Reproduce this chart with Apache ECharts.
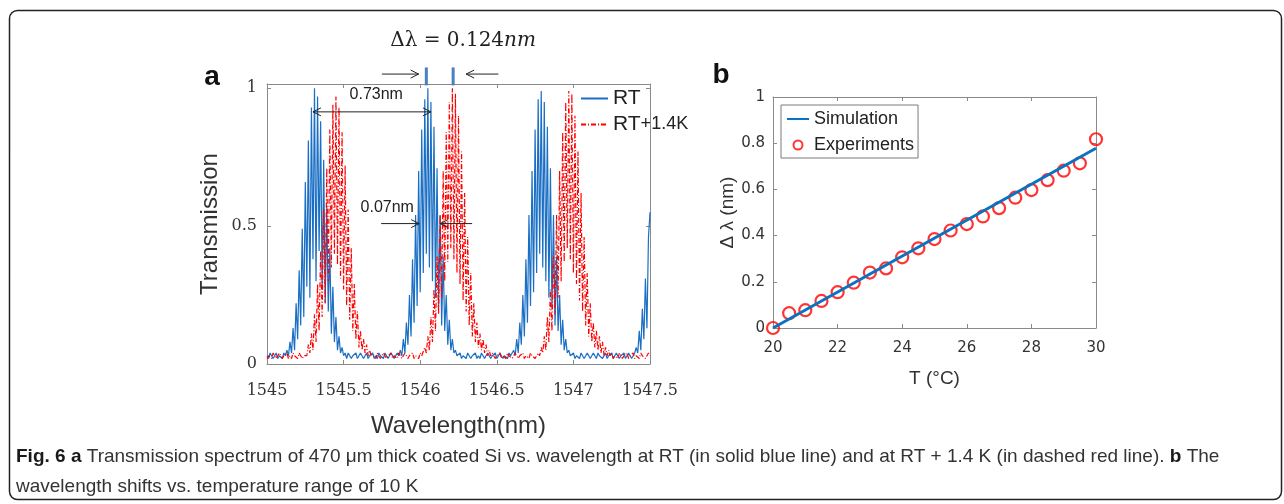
<!DOCTYPE html>
<html lang="en">
<head>
<meta charset="UTF-8">
<script src="https://cdn.jsdelivr.net/npm/echarts/dist/echarts.min.js"></script>
<title>Fig. 6</title>
<style>html,body{margin:0;padding:0;background:#fff}</style>
</head>
<body>
<div id="main" style="width:1284px;height:504px;"></div>
<script>
// panel a: transmission, one sample every 0.01 nm starting at 1545.00 nm
var wlStart = 1545.0;
var wlStep = 0.01;
var transRT = [
  0.03,0.02,0.04,0.03,0.02,0.03,0.04,0.02,0.03,0.03,
  0.02,0.04,0.03,0.05,0.03,0.08,0.04,0.13,0.05,0.22,
  0.09,0.34,0.14,0.49,0.17,0.66,0.28,0.81,0.24,0.93,
  0.38,1.00,0.30,0.97,0.41,0.88,0.27,0.74,0.22,0.57,
  0.19,0.42,0.11,0.28,0.08,0.17,0.05,0.10,0.04,0.06,
  0.03,0.04,0.02,0.04,0.03,0.02,0.03,0.03,0.04,0.02,
  0.03,0.04,0.03,0.02,0.03,0.04,0.02,0.03,0.03,0.04,
  0.02,0.03,0.02,0.04,0.03,0.03,0.02,0.04,0.03,0.02,
  0.03,0.04,0.03,0.02,0.03,0.04,0.03,0.05,0.03,0.09,
  0.04,0.15,0.07,0.25,0.10,0.38,0.15,0.54,0.21,0.70,
  0.26,0.85,0.33,0.96,0.40,1.00,0.35,0.95,0.30,0.86,
  0.24,0.71,0.20,0.54,0.14,0.39,0.12,0.25,0.07,0.16,
  0.05,0.09,0.04,0.05,0.03,0.03,0.04,0.02,0.03,0.03,
  0.02,0.04,0.03,0.02,0.03,0.03,0.04,0.02,0.03,0.02,
  0.04,0.03,0.02,0.03,0.04,0.03,0.02,0.03,0.03,0.04,
  0.02,0.03,0.04,0.03,0.02,0.03,0.03,0.02,0.04,0.03,
  0.03,0.05,0.03,0.09,0.04,0.15,0.07,0.25,0.10,0.38,
  0.15,0.54,0.21,0.70,0.26,0.85,0.33,0.96,0.40,0.99,
  0.35,0.95,0.30,0.86,0.24,0.71,0.20,0.54,0.14,0.39,
  0.12,0.25,0.07,0.16,0.05,0.09,0.04,0.05,0.03,0.03,
  0.04,0.02,0.03,0.03,0.02,0.04,0.03,0.02,0.03,0.04,
  0.03,0.02,0.03,0.04,0.03,0.02,0.04,0.03,0.03,0.02,
  0.03,0.04,0.02,0.03,0.03,0.04,0.02,0.03,0.04,0.03,
  0.02,0.03,0.03,0.04,0.02,0.03,0.04,0.03,0.02,0.03,
  0.04,0.06,0.04,0.12,0.05,0.20,0.09,0.31,0.13,0.46,0.55
];
var transRT14 = [
  0.02,0.03,0.03,0.02,0.04,0.03,0.02,0.03,0.04,0.03,
  0.02,0.03,0.03,0.04,0.02,0.03,0.02,0.04,0.03,0.03,
  0.02,0.04,0.03,0.02,0.03,0.03,0.03,0.07,0.04,0.11,
  0.05,0.18,0.08,0.29,0.12,0.41,0.17,0.56,0.22,0.71,
  0.30,0.85,0.35,0.94,0.40,0.97,0.36,0.93,0.31,0.84,
  0.27,0.72,0.21,0.56,0.16,0.42,0.12,0.29,0.09,0.19,
  0.06,0.12,0.05,0.09,0.04,0.07,0.03,0.05,0.03,0.03,
  0.03,0.02,0.04,0.03,0.02,0.03,0.04,0.03,0.02,0.03,
  0.03,0.04,0.02,0.03,0.03,0.02,0.04,0.03,0.02,0.03,
  0.04,0.03,0.02,0.03,0.03,0.04,0.02,0.03,0.03,0.02,
  0.04,0.03,0.03,0.06,0.04,0.10,0.05,0.17,0.08,0.27,
  0.12,0.39,0.18,0.54,0.24,0.70,0.30,0.84,0.37,0.95,
  0.42,1.00,0.38,0.98,0.33,0.90,0.29,0.77,0.23,0.62,
  0.19,0.46,0.14,0.33,0.10,0.22,0.08,0.15,0.06,0.11,
  0.05,0.09,0.04,0.07,0.03,0.05,0.03,0.04,0.03,0.02,
  0.03,0.03,0.04,0.02,0.03,0.03,0.02,0.04,0.03,0.03,
  0.02,0.03,0.04,0.03,0.02,0.03,0.03,0.04,0.02,0.03,
  0.03,0.02,0.04,0.03,0.03,0.02,0.03,0.04,0.03,0.06,
  0.04,0.10,0.05,0.17,0.08,0.27,0.12,0.39,0.18,0.54,
  0.24,0.70,0.30,0.84,0.37,0.95,0.42,0.99,0.38,0.98,
  0.33,0.90,0.29,0.77,0.23,0.62,0.19,0.46,0.14,0.33,
  0.10,0.22,0.08,0.15,0.06,0.12,0.05,0.10,0.04,0.08,
  0.03,0.06,0.03,0.05,0.03,0.04,0.02,0.03,0.03,0.02,
  0.04,0.03,0.02,0.03,0.03,0.04,0.02,0.03,0.03,0.04,
  0.02,0.03,0.03,0.02,0.04,0.03,0.03,0.02,0.03,0.04,0.03
];

// panel b: wavelength shift vs temperature
var tempC = [20,20.5,21,21.5,22,22.5,23,23.5,24,24.5,25,25.5,26,26.5,27,27.5,28,28.5,29,29.5,30];
var shiftExp = [0.000,0.064,0.077,0.117,0.155,0.196,0.240,0.258,0.306,0.345,0.385,0.422,0.450,0.483,0.519,0.564,0.597,0.640,0.681,0.713,0.817];
var simTemp = [20, 30];
var simShift = [0, 0.778];

// annotations on panel a (data units)
var peakMarks = [1546.04, 1546.215];
var fsrFrom = 1545.30, fsrTo = 1546.07;   // 0.73nm
var fwhmFrom = 1545.993, fwhmTo = 1546.13; // 0.07nm

var rtData = transRT.map(function (v, i) { return [+(wlStart + i * wlStep).toFixed(2), v]; });
var rt14Data = transRT14.map(function (v, i) { return [+(wlStart + i * wlStep).toFixed(2), v]; });
var expData = tempC.map(function (t, i) { return [t, shiftExp[i]]; });
var simData = simTemp.map(function (t, i) { return [t, simShift[i]]; });

var axisGray = '#8a8a8a';
var txt = '#333';
function plain(v) { return String(v); }

function boxAxis(grid, pos, min, max, interval) {
    return {
        gridIndex: grid, type: 'value', position: pos, min: min, max: max, interval: interval,
        axisLine: { show: true, onZero: false, lineStyle: { color: axisGray, width: 1 } },
        axisTick: { show: true, inside: true, length: 4, lineStyle: { color: axisGray } },
        axisLabel: { show: false },
        splitLine: { show: false }
    };
}

var myChart = echarts.init(document.getElementById('main'));

var option = {
    animation: false,
    backgroundColor: '#fff',
    grid: [
        { left: 267, top: 84, width: 383, height: 280, outerBoundsMode: 'none' },
        { left: 773, top: 97, width: 323, height: 231, outerBoundsMode: 'none' }
    ],
    xAxis: [
        {
            gridIndex: 0, type: 'value', position: 'bottom', min: 1545, max: 1547.5, interval: 0.5,
            name: 'Wavelength(nm)', nameLocation: 'middle', nameGap: 50,
            nameTextStyle: { fontFamily: 'Liberation Sans', fontSize: 24, color: txt },
            axisLine: { show: true, onZero: false, lineStyle: { color: axisGray } },
            axisTick: { show: true, inside: true, length: 4, lineStyle: { color: axisGray } },
            axisLabel: { margin: 19, fontFamily: 'DejaVu Serif', fontSize: 16, color: txt, formatter: plain },
            splitLine: { show: false }
        },
        boxAxis(0, 'top', 1545, 1547.5, 0.5),
        {
            gridIndex: 1, type: 'value', position: 'bottom', min: 20, max: 30, interval: 2,
            name: 'T (°C)', nameLocation: 'middle', nameGap: 41,
            nameTextStyle: { fontFamily: 'Liberation Sans', fontSize: 19, color: txt },
            axisLine: { show: true, onZero: false, lineStyle: { color: axisGray } },
            axisTick: { show: true, inside: true, length: 4, lineStyle: { color: axisGray } },
            axisLabel: { margin: 13, fontFamily: 'DejaVu Sans', fontSize: 15, color: txt, formatter: plain },
            splitLine: { show: false }
        },
        boxAxis(1, 'top', 20, 30, 2)
    ],
    yAxis: [
        {
            gridIndex: 0, type: 'value', position: 'left', min: 0, max: 1.015, interval: 0.5,
            name: 'Transmission', nameLocation: 'middle', nameGap: 45, nameRotate: 90,
            nameTextStyle: { fontFamily: 'Liberation Sans', fontSize: 24, color: txt },
            axisLine: { show: true, onZero: false, lineStyle: { color: axisGray } },
            axisTick: { show: true, inside: true, length: 4, lineStyle: { color: axisGray } },
            axisLabel: { margin: 10, fontFamily: 'DejaVu Serif', fontSize: 16, color: txt, showMaxLabel: false, formatter: plain },
            splitLine: { show: false }
        },
        boxAxis(0, 'right', 0, 1.015, 0.5),
        {
            gridIndex: 1, type: 'value', position: 'left', min: 0, max: 1, interval: 0.2,
            name: 'Δ λ (nm)', nameLocation: 'middle', nameGap: 36, nameRotate: 90,
            nameTextStyle: { fontFamily: 'Liberation Sans', fontSize: 19, color: txt },
            axisLine: { show: true, onZero: false, lineStyle: { color: axisGray } },
            axisTick: { show: true, inside: true, length: 4, lineStyle: { color: axisGray } },
            axisLabel: { margin: 8, fontFamily: 'DejaVu Sans', fontSize: 15, color: txt, formatter: plain },
            splitLine: { show: false }
        },
        boxAxis(1, 'right', 0, 1, 0.2)
    ],
    legend: [
        {
            data: [
                { name: 'RT', itemStyle: { opacity: 0 } },
                { name: 'RT+1.4K', itemStyle: { opacity: 0 } }
            ],
            orient: 'vertical', left: 580, top: 88, padding: 0,
            itemWidth: 27, itemHeight: 10, itemGap: 5,
            formatter: function (n) { return n === 'RT' ? '{a|RT}' : '{a|RT}{b|+1.4K}'; },
            textStyle: {
                color: '#222',
                rich: {
                    a: { fontFamily: 'Liberation Sans', fontSize: 21, color: '#222' },
                    b: { fontFamily: 'Liberation Sans', fontSize: 18, color: '#222' }
                }
            }
        },
        {
            data: [
                { name: 'Simulation', itemStyle: { opacity: 0 } },
                { name: 'Experiments', icon: 'circle', itemStyle: { color: '#fff', borderColor: '#ff0000', borderWidth: 2 } }
            ],
            orient: 'vertical', left: 781, top: 105, padding: [5, 4, 4, 5],
            itemWidth: 22, itemHeight: 9, itemGap: 8,
            borderColor: '#7a7a7a', borderWidth: 1, backgroundColor: '#fff',
            textStyle: { fontFamily: 'Liberation Sans', fontSize: 18, color: '#222' }
        }
    ],
    series: [
        {
            name: 'RT', type: 'line', xAxisIndex: 0, yAxisIndex: 0, data: rtData,
            symbol: 'none', color: '#1a6fc4',
            lineStyle: { color: '#1a6fc4', width: 1.2 }
        },
        {
            name: 'RT+1.4K', type: 'line', xAxisIndex: 0, yAxisIndex: 0, data: rt14Data,
            symbol: 'none', color: '#ff0000',
            lineStyle: { color: '#ff0000', width: 1.2, type: [5, 2, 1, 2] }
        },
        {
            name: 'Simulation', type: 'line', xAxisIndex: 2, yAxisIndex: 2, data: simData,
            symbol: 'none', color: '#0a72c0',
            lineStyle: { color: '#0a72c0', width: 3 }
        },
        {
            name: 'Experiments', type: 'scatter', xAxisIndex: 2, yAxisIndex: 2, data: expData,
            symbol: 'circle', symbolSize: 12, color: '#ff0000',
            itemStyle: { color: 'rgba(255,255,255,0)', borderColor: '#ff0000', borderWidth: 2.2 }
        }
    ]
};
myChart.setOption(option);

// annotation overlay, placed with the panel a axes
function px(x, y) { return myChart.convertToPixel({ seriesIndex: 0 }, [x, y]); }
function head(tip, from) {
    var dx = tip[0] - from[0], dy = tip[1] - from[1];
    var len = Math.sqrt(dx * dx + dy * dy), ux = dx / len, uy = dy / len, L = 8, W = 4;
    return {
        type: 'polyline', z: 100,
        shape: { points: [[tip[0] - ux * L - uy * W, tip[1] - uy * L + ux * W], tip, [tip[0] - ux * L + uy * W, tip[1] - uy * L - ux * W]] },
        style: { stroke: '#222', lineWidth: 1, fill: null }
    };
}
function arrow(p1, p2, both) {
    var els = [{ type: 'line', z: 100, shape: { x1: p1[0], y1: p1[1], x2: p2[0], y2: p2[1] }, style: { stroke: '#222', lineWidth: 1 } }];
    els.push(head(p2, p1));
    if (both) els.push(head(p1, p2));
    return els;
}
function label(x, y, text, style) {
    return { type: 'text', z: 100, x: x, y: y, style: Object.assign({ text: text, align: 'center', verticalAlign: 'middle', fill: '#222' }, style) };
}

var g = [];
// frame round the figure
g.push({ type: 'rect', z: 0, shape: { x: 9.5, y: 10.5, width: 1272, height: 489, r: 8 }, style: { fill: null, stroke: '#222', lineWidth: 1.5 } });
// panel letters
g.push(label(212, 77, 'a', { fontFamily: 'Liberation Sans', fontSize: 28, fontWeight: 'bold', fill: '#111' }));
g.push(label(721, 75, 'b', { fontFamily: 'Liberation Sans', fontSize: 28, fontWeight: 'bold', fill: '#111' }));
// shift markers above panel a
peakMarks.forEach(function (m) {
    var a = px(m, 1.01), b = px(m, 1.075);
    g.push({ type: 'line', z: 100, shape: { x1: a[0], y1: a[1], x2: b[0], y2: b[1] }, style: { stroke: '#4a7fc0', lineWidth: 3 } });
});
g = g.concat(arrow(px(1545.75, 1.051), px(1545.99, 1.051)));
g = g.concat(arrow(px(1546.51, 1.051), px(1546.30, 1.051)));
var dl = px(1546.28, 1.171);
g.push(label(dl[0], dl[1], '{n|Δλ = 0.124}{i|nm}', {
    rich: {
        n: { fontFamily: 'DejaVu Serif', fontSize: 20, fill: '#222' },
        i: { fontFamily: 'DejaVu Serif', fontSize: 20, fontStyle: 'italic', fill: '#222' }
    }
}));
// free spectral range
g = g.concat(arrow(px(fsrFrom, 0.914), px(fsrTo, 0.914), true));
var t1 = px(1545.713, 0.975);
g.push(label(t1[0], t1[1], '0.73nm', { fontFamily: 'Liberation Sans', fontSize: 16 }));
// fringe width
g = g.concat(arrow(px(1545.745, 0.509), px(fwhmFrom, 0.509)));
g = g.concat(arrow(px(1546.339, 0.509), px(fwhmTo, 0.509)));
var t2 = px(1545.785, 0.567);
g.push(label(t2[0], t2[1], '0.07nm', { fontFamily: 'Liberation Sans', fontSize: 16 }));
// caption
g.push({
    type: 'text', z: 100, x: 16, y: 457,
    style: {
        text: '{b|Fig. 6 a} Transmission spectrum of 470 μm thick coated Si vs. wavelength at RT (in solid blue line) and at RT + 1.4 K (in dashed red line). {b|b} The',
        fontFamily: 'Liberation Sans', fontSize: 19, fill: '#333', verticalAlign: 'middle',
        rich: { b: { fontFamily: 'Liberation Sans', fontSize: 19, fontWeight: 'bold', fill: '#1a1a1a' } }
    }
});
g.push({
    type: 'text', z: 100, x: 16, y: 487,
    style: { text: 'wavelength shifts vs. temperature range of 10 K', fontFamily: 'Liberation Sans', fontSize: 19, fill: '#333', verticalAlign: 'middle' }
});
myChart.setOption({ graphic: g });
</script>
</body>
</html>
